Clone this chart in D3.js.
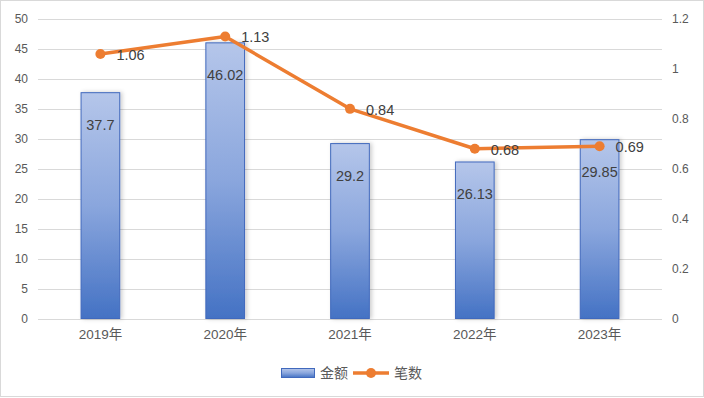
<!DOCTYPE html>
<html>
<head>
<meta charset="utf-8">
<script src="https://cdn.jsdelivr.net/npm/d3@7"></script>
<style>
  html, body { margin: 0; padding: 0; background: #fff; }
  svg { display: block; font-family: "Liberation Sans", Arial, "Noto Sans CJK SC", sans-serif; }
</style>
</head>
<body>
<svg id="chart" width="704" height="398"></svg>
<script>
//

const years = ['2019年', '2020年', '2021年', '2022年', '2023年']
const amounts = [37.7, 46.02, 29.2, 26.13, 29.85]
const counts = [1.06, 1.13, 0.84, 0.68, 0.69]
const leftTicks = [0, 5, 10, 15, 20, 25, 30, 35, 40, 45, 50]
const rightTicks = [0, 0.2, 0.4, 0.6, 0.8, 1, 1.2]
const seriesNames = ['金额', '笔数']

//

const svg = d3.select('#chart')
const margin = { top: 19, left: 38, right: 42, bottom: 79.5 }
const W = 704
const H = 398

svg.append('rect')
  .attr('x', 0.5).attr('y', 0.5)
  .attr('width', W - 1).attr('height', H - 2)
  .attr('fill', '#fff').attr('stroke', '#d9d9d9')

const x = d3.scaleBand()
  .domain(years)
  .range([margin.left, W - margin.right])
  .paddingInner(0.69).paddingOuter(0.345)

const y = d3.scaleLinear().domain([0, 50]).range([H - margin.bottom, margin.top])
const y2 = d3.scaleLinear().domain([0, 1.2]).range([H - margin.bottom, margin.top])

const defs = svg.append('defs')
const grad = defs.append('linearGradient')
  .attr('id', 'barGrad').attr('x1', 0).attr('y1', 0).attr('x2', 0).attr('y2', 1)
grad.append('stop').attr('offset', '0%').attr('stop-color', '#b5c6ea')
grad.append('stop').attr('offset', '50%').attr('stop-color', '#8aa6dd')
grad.append('stop').attr('offset', '100%').attr('stop-color', '#4472c4')

const shadow = defs.append('filter').attr('id', 'shadow')
  .attr('x', '-20%').attr('y', '-5%').attr('width', '150%').attr('height', '110%')
shadow.append('feDropShadow')
  .attr('dx', 2).attr('dy', 0).attr('stdDeviation', 2)
  .attr('flood-color', '#000').attr('flood-opacity', 0.2)

// grid
svg.append('g')
  .selectAll('line')
  .data(leftTicks)
  .join('line')
  .attr('x1', margin.left).attr('x2', W - margin.right)
  .attr('y1', (d) => Math.round(y(d)) + 0.5).attr('y2', (d) => Math.round(y(d)) + 0.5)
  .attr('stroke', '#d9d9d9').attr('stroke-width', 1)

// left axis
const leftAxis = svg.append('g')
  .attr('transform', `translate(${margin.left - 10},0)`)
  .call(d3.axisLeft(y).tickValues(leftTicks).tickSize(0).tickPadding(0))
leftAxis.select('.domain').remove()
leftAxis.selectAll('text').attr('fill', '#595959').attr('font-size', 12)
  .attr('font-family', '"Liberation Sans", Arial, sans-serif')

// right axis
const rightAxis = svg.append('g')
  .attr('transform', `translate(${W - margin.right + 10},0)`)
  .call(d3.axisRight(y2).tickValues(rightTicks).tickSize(0).tickPadding(0)
    .tickFormat((d) => d3.format('~g')(d)))
rightAxis.select('.domain').remove()
rightAxis.selectAll('text').attr('fill', '#595959').attr('font-size', 12)
  .attr('font-family', '"Liberation Sans", Arial, sans-serif')

// x axis
const xAxis = svg.append('g')
  .attr('transform', `translate(0,${H - margin.bottom + 11})`)
  .call(d3.axisBottom(x).tickSize(0).tickPadding(0))
xAxis.select('.domain').remove()
xAxis.selectAll('text').attr('fill', '#595959').attr('font-size', 13.5)
  .attr('font-family', '"Liberation Sans", Arial, "Noto Sans CJK SC", sans-serif')

// bars
svg.append('g')
  .selectAll('rect')
  .data(amounts)
  .join('rect')
  .attr('x', (d, i) => x(years[i]))
  .attr('y', (d) => y(d))
  .attr('width', x.bandwidth())
  .attr('height', (d) => y(0) - y(d))
  .attr('fill', 'url(#barGrad)')
  .attr('stroke', '#4169bd').attr('stroke-width', 1)
  .attr('filter', 'url(#shadow)')

// bar labels
svg.append('g')
  .selectAll('text')
  .data(amounts)
  .join('text')
  .attr('x', (d, i) => x(years[i]) + x.bandwidth() / 2)
  .attr('y', (d) => y(d) + 32)
  .attr('text-anchor', 'middle').attr('dominant-baseline', 'central')
  .attr('fill', '#404040').attr('font-size', 14.5)
  .text((d) => d)

// line
const cx = (i) => x(years[i]) + x.bandwidth() / 2
const line = d3.line().x((d, i) => cx(i)).y((d) => y2(d))
svg.append('path')
  .datum(counts)
  .attr('d', line)
  .attr('fill', 'none').attr('stroke', '#ed7d31')
  .attr('stroke-width', 3.5).attr('stroke-linejoin', 'round')

svg.append('g')
  .selectAll('circle')
  .data(counts)
  .join('circle')
  .attr('cx', (d, i) => cx(i)).attr('cy', (d) => y2(d))
  .attr('r', 5).attr('fill', '#ed7d31')

svg.append('g')
  .selectAll('text')
  .data(counts)
  .join('text')
  .attr('x', (d, i) => cx(i) + 16)
  .attr('y', (d) => y2(d) + 1)
  .attr('dominant-baseline', 'central')
  .attr('fill', '#404040').attr('font-size', 14.5)
  .text((d) => d)

// legend
const legend = svg.append('g').attr('transform', 'translate(281,373)')
legend.append('rect')
  .attr('x', 0.5).attr('y', -4.5).attr('width', 33).attr('height', 9)
  .attr('fill', 'url(#barGrad)').attr('stroke', '#4169bd')
legend.append('text')
  .attr('x', 39).attr('y', 0).attr('dominant-baseline', 'central')
  .attr('fill', '#595959').attr('font-size', 14)
  .text(seriesNames[0])
legend.append('line')
  .attr('x1', 72).attr('x2', 108).attr('y1', 0).attr('y2', 0)
  .attr('stroke', '#ed7d31').attr('stroke-width', 3.5)
legend.append('circle').attr('cx', 90).attr('cy', 0).attr('r', 5).attr('fill', '#ed7d31')
legend.append('text')
  .attr('x', 113).attr('y', 0).attr('dominant-baseline', 'central')
  .attr('fill', '#595959').attr('font-size', 14)
  .text(seriesNames[1])
</script>
</body>
</html>
